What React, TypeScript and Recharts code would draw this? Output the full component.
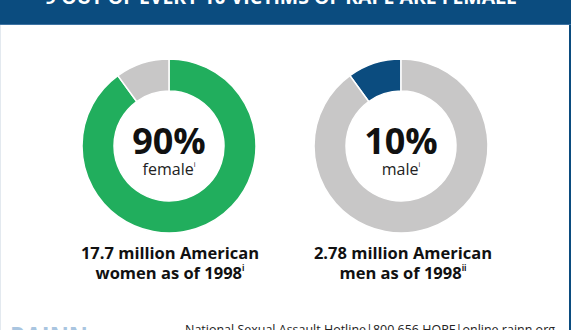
import React from 'react';
import { PieChart, Pie, Cell } from 'recharts';

// share of victims by sex (percent)
const femaleShare = [
  { name: 'female', value: 90 },
  { name: 'male', value: 10 },
];
const maleShare = [
  { name: 'male', value: 10 },
  { name: 'female', value: 90 },
];
const femaleColors = ['#21ae5d', '#c8c7c7'];
const maleColors = ['#0b4c7f', '#c8c7c7'];

const title = '9 OUT OF EVERY 10 VICTIMS OF RAPE ARE FEMALE';
const bigLabels = ['90%', '10%'];
const smallLabels = ['female', 'male'];
const captionLines = [
  ['17.7 million American', 'women as of 1998', 'i'],
  ['2.78 million American', 'men as of 1998', 'ii'],
];
const footer = 'National Sexual Assault Hotline|800.656.HOPE|online.rainn.org';

const W = 571;
const H = 330;
const FONT = '"Open Sans", "Noto Sans", sans-serif';
const centers = [
  { x: 169, y: 146 },
  { x: 401, y: 146 },
];

export default function App() {
  return (
    <div style={{ position: 'absolute', left: 0, top: 0, width: W, height: H, background: '#fff', overflow: 'hidden', fontFamily: FONT }}>
      <div style={{ position: 'absolute', left: 0, top: 0, width: W, height: 25, background: '#0b4c7f' }} />
      <div style={{ position: 'absolute', left: 0, top: 24, width: W, height: 1, background: '#3d73a3' }} />
      <div style={{ position: 'absolute', left: 569, top: 25, width: 2, height: H - 25, background: '#0b4c7f' }} />
      <div style={{ position: 'absolute', left: 0, top: 25, width: 1, height: H - 25, background: '#e3e9ef' }} />

      <div style={{ position: 'absolute', left: 0, top: 0 }}>
        <PieChart width={W} height={H} margin={{ top: 0, right: 0, bottom: 0, left: 0 }}>
          <Pie
            data={femaleShare}
            dataKey="value"
            cx={centers[0].x}
            cy={centers[0].y}
            innerRadius={55}
            outerRadius={87}
            startAngle={90}
            endAngle={-270}
            stroke="#fff"
            strokeWidth={1.5}
            isAnimationActive={false}
          >
            {femaleShare.map((d, i) => (
              <Cell key={d.name} fill={femaleColors[i]} />
            ))}
          </Pie>
          <Pie
            data={maleShare}
            dataKey="value"
            cx={centers[1].x}
            cy={centers[1].y}
            innerRadius={55}
            outerRadius={87}
            startAngle={90}
            endAngle={450}
            stroke="#fff"
            strokeWidth={1.5}
            isAnimationActive={false}
          >
            {maleShare.map((d, i) => (
              <Cell key={d.name} fill={maleColors[i]} />
            ))}
          </Pie>
        </PieChart>
      </div>

      <svg width={W} height={H} style={{ position: 'absolute', left: 0, top: 0, pointerEvents: 'none' }}>
        <text x={45} y={4} fill="#fff" fontFamily={FONT} fontWeight={700} fontSize={20} textLength={472} lengthAdjust="spacingAndGlyphs">
          {title}
        </text>
        {centers.map((c, i) => (
          <g key={i}>
            <text x={c.x} y={154} textAnchor="middle" fill="#111" fontFamily={FONT} fontWeight={700} fontSize={36}>
              {bigLabels[i]}
            </text>
            <text x={c.x} y={175} textAnchor="middle" fill="#222" fontFamily={FONT} fontSize={16}>
              {smallLabels[i]}
              <tspan fontSize={7} dy={-8}>{'i'}</tspan>
            </text>
            <text x={c.x + (i === 0 ? 1 : 2)} y={259} textAnchor="middle" fill="#111" fontFamily={FONT} fontWeight={700} fontSize={16.5}>
              {captionLines[i][0]}
            </text>
            <text x={c.x + (i === 0 ? 1 : 2)} y={279} textAnchor="middle" fill="#111" fontFamily={FONT} fontWeight={700} fontSize={16.5}>
              {captionLines[i][1]}
              <tspan fontSize={8} dy={-8}>{captionLines[i][2]}</tspan>
            </text>
          </g>
        ))}
        <text x={10} y={349} fill="#a9c5e0" fontFamily={FONT} fontWeight={700} fontSize={30} textLength={78} lengthAdjust="spacingAndGlyphs">
          RAINN
        </text>
        <text x={185} y={334} fill="#222" fontFamily={FONT} fontSize={13} textLength={370} lengthAdjust="spacingAndGlyphs">
          {footer}
        </text>
      </svg>
    </div>
  );
}
